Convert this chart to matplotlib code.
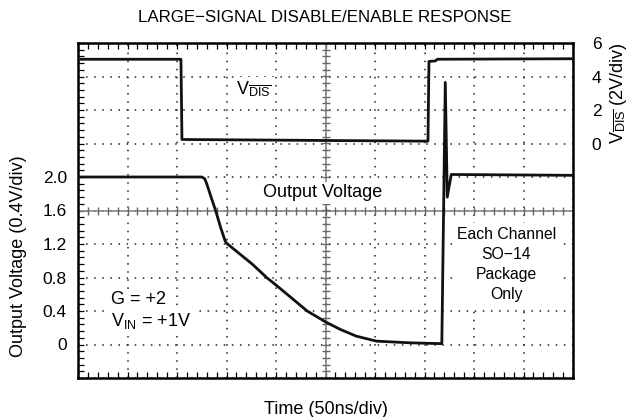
import numpy as np
import matplotlib
matplotlib.use("Agg")
import matplotlib.pyplot as plt
from matplotlib.ticker import MultipleLocator, FixedLocator

plt.rcParams['font.family'] = ['Liberation Sans', 'DejaVu Sans']
plt.rcParams['mathtext.fontset'] = 'custom'
plt.rcParams['mathtext.rm'] = 'Liberation Sans'
plt.rcParams['mathtext.it'] = 'Liberation Sans:italic'

# time in ns (50 ns per division)
vdis_t = [0, 104, 105, 250, 353.5, 354.5, 361, 363, 500]
vdis_v = [5.03, 5.03, 0.24, 0.18, 0.14, 4.9, 4.93, 5.03, 5.06]

out_t = [0, 125, 128, 130, 135, 139, 144, 148.5, 150, 176.5, 190.5, 200,
         231.5, 250, 265, 281, 301.5, 335.5, 367.5, 371, 373, 377, 500]
out_v = [2.0, 2.0, 1.98, 1.92, 1.74, 1.6, 1.40, 1.24, 1.21, 0.955, 0.8, 0.71,
         0.4, 0.27, 0.18, 0.10, 0.04, 0.02, 0.01, 3.13, 1.76, 2.03, 2.02]

left_ticks = [-0.4, 0, 0.4, 0.8, 1.2, 1.6, 2.0, 2.4, 2.8, 3.2, 3.6]
left_labels = ['', '0', '0.4', '0.8', '1.2', '1.6', '2.0', '', '', '', '']
right_ticks = [0, 2, 4, 6]
right_labels = ['0', '2', '4', '6']

fig = plt.figure(figsize=(6.31, 4.17), dpi=100)
ax = fig.add_axes([78 / 631, 39 / 417, 495 / 631, 335 / 417])
ax.set_xlim(0, 500)
ax.set_ylim(-0.4, 3.6)

# scope graticule
ax.xaxis.set_major_locator(MultipleLocator(50))
ax.xaxis.set_minor_locator(MultipleLocator(10))
ax.yaxis.set_major_locator(FixedLocator(left_ticks))
ax.yaxis.set_minor_locator(MultipleLocator(0.08))
ax.set_yticklabels(left_labels)
ax.set_xticklabels([])
ax.grid(which='major', color='#222222', linestyle=(0, (1, 4.3)), lw=1.1)
ax.tick_params(which='both', direction='in', top=True, right=True,
               length=4, width=0.9, pad=8, labelsize=12.5)
for s in ax.spines.values():
    s.set_linewidth(1.8)

ax.axhline(1.6, color='#888888', lw=1.2, zorder=2)
ax.axvline(250, color='#888888', lw=1.2, zorder=2)
mx = np.arange(10, 500, 10)
my = np.arange(-0.32, 3.6, 0.08)
ax.plot(mx, np.full(len(mx), 1.6), ls='none', marker='|', ms=5.5, mew=1, color='#666666')
ax.plot(np.full(len(my), 250), my, ls='none', marker='_', ms=5.5, mew=1, color='#666666')

ax.plot(out_t, out_v, color='#111111', lw=2, zorder=4)

ax2 = ax.twinx()
ax2.set_ylim(-14, 6)
ax2.set_yticks(right_ticks)
ax2.set_yticklabels(right_labels)
ax2.tick_params(length=0, pad=13.5, labelsize=12.5)
ax2.plot(vdis_t, vdis_v, color='#111111', lw=2, zorder=4)
for s in ax2.spines.values():
    s.set_visible(False)

ax2.set_ylabel(r'$\mathrm{V}_{\overline{\mathrm{DIS}}}$ (2V/div)', fontsize=13, labelpad=5)
ax2.yaxis.label.set_y(0.85)
ax.set_ylabel('Output Voltage (0.4V/div)', fontsize=13, labelpad=11)
ax.yaxis.label.set_y(0.364)
ax.set_xlabel('Time (50ns/div)', fontsize=13, labelpad=8.5)
fig.text(325 / 631, 1 - 18 / 417, 'LARGE\u2212SIGNAL DISABLE/ENABLE RESPONSE',
         ha='center', va='center', fontsize=12.2)

box = dict(facecolor='white', edgecolor='none', pad=1.5)
ax2.text(160, 2.95, r'$\mathrm{V}_{\overline{\mathrm{DIS}}}$', fontsize=13, va='baseline', bbox=box)
ax.text(247.5, 1.756, 'Output Voltage', fontsize=13, ha='center', va='baseline', bbox=box)
ax.text(33.6, 0.486, 'G = +2', fontsize=13, va='baseline', bbox=box)
ax.text(33.6, 0.219, r'$\mathrm{V}_{\mathrm{IN}}$ = +1V', fontsize=13, va='baseline', bbox=box)
ax.text(432.6, 0.539, 'Each Channel\nSO\u221214\nPackage\nOnly', fontsize=11.3,
        ha='center', va='baseline', linespacing=1.42, bbox=dict(facecolor='white', edgecolor='none', pad=3))

fig.savefig('out.png', dpi=100)
